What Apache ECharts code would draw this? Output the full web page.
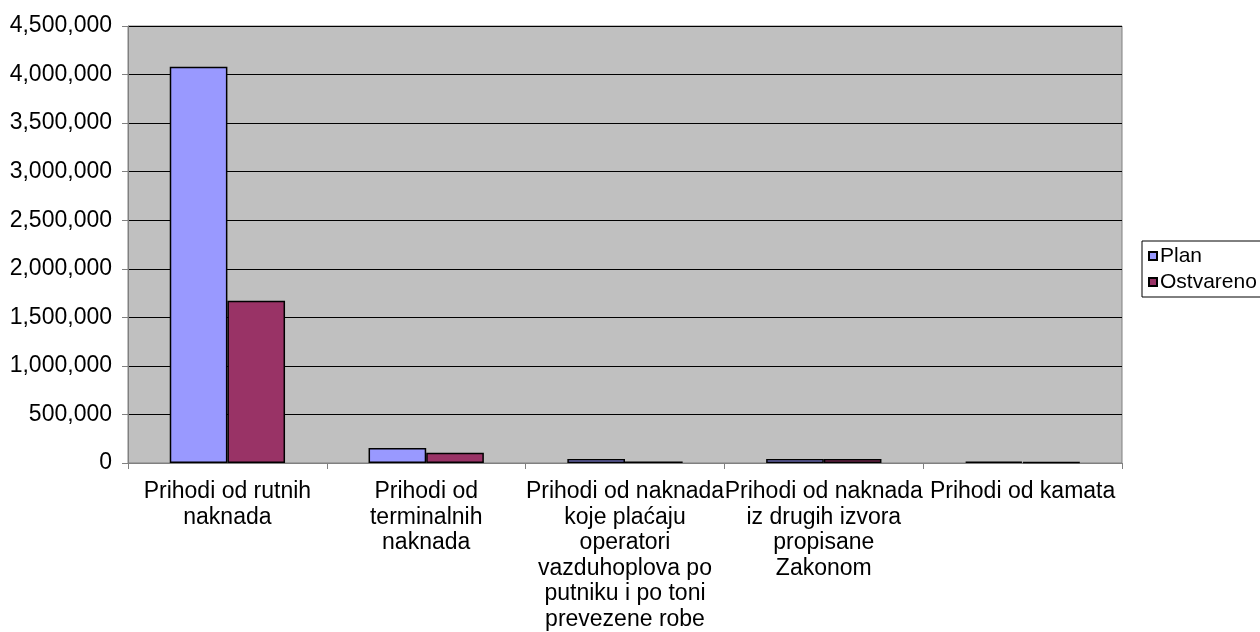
<!DOCTYPE html>
<html>
<head>
<meta charset="utf-8">
<script src="https://cdn.jsdelivr.net/npm/echarts@6/dist/echarts.min.js"></script>
<style>
html,body{margin:0;padding:0;background:#fff;}
#c{width:1260px;height:632px;}
</style>
</head>
<body>
<div id="c"></div>
<script>
var categories = [
  "Prihodi od rutnih\nnaknada",
  "Prihodi od\nterminalnih\nnaknada",
  "Prihodi od naknada\nkoje plaćaju\noperatori\nvazduhoplova po\nputniku i po toni\nprevezene robe",
  "Prihodi od naknada\niz drugih izvora\npropisane\nZakonom",
  "Prihodi od kamata"
];
var seriesNames = ["Plan", "Ostvareno"];
var planValues = [4080000, 155000, 42000, 40000, 14000];
var ostvarenoValues = [1670000, 105000, 16000, 40000, 9000];
var yMin = 0, yMax = 4500000, yStep = 500000;

var FONT = "Liberation Sans, Arial, sans-serif";
var chart = echarts.init(document.getElementById('c'), null, {renderer: 'canvas'});
chart.setOption({
  animation: false,
  backgroundColor: '#ffffff',
  textStyle: {fontFamily: FONT, color: '#000'},
  grid: {
    left: 128, right: 138, top: 26, bottom: 167,
    show: true, backgroundColor: '#C0C0C0', borderColor: '#808080', borderWidth: 1
  },
  legend: {
    orient: 'vertical',
    left: 1142, top: 241,
    data: seriesNames,
    icon: 'rect',
    itemWidth: 8, itemHeight: 8, itemGap: 4,
    borderColor: '#000', borderWidth: 1,
    padding: [4, 4, 4, 6],
    textStyle: {fontFamily: FONT, fontSize: 21, lineHeight: 22, color: '#000', padding: [0,0,0,-2]}
  },
  xAxis: {
    type: 'category',
    data: categories,
    axisLine: {lineStyle: {color: '#808080', width: 1}},
    axisTick: {show: true, length: 6, lineStyle: {color: '#808080'}},
    axisLabel: {
      interval: 0, margin: 16, fontSize: 23, lineHeight: 25.5,
      color: '#000', fontFamily: FONT, align: 'center'
    }
  },
  yAxis: {
    type: 'value',
    min: yMin, max: yMax, interval: yStep,
    axisLine: {show: true, lineStyle: {color: '#808080', width: 1}},
    axisTick: {show: true, length: 6, lineStyle: {color: '#808080'}},
    splitLine: {show: true, lineStyle: {color: '#000', width: 1}},
    axisLabel: {
      margin: 16, fontSize: 23, color: '#000', fontFamily: FONT,
      formatter: function (v) { return v.toLocaleString('en-US'); }
    }
  },
  series: [
    {
      name: seriesNames[0], type: 'bar', data: planValues,
      barGap: '0%', barCategoryGap: '42%',
      itemStyle: {color: '#9999FF', borderColor: '#000', borderWidth: 1.5}
    },
    {
      name: seriesNames[1], type: 'bar', data: ostvarenoValues,
      barGap: '0%', barCategoryGap: '42%',
      itemStyle: {color: '#993366', borderColor: '#000', borderWidth: 1.5}
    }
  ]
});
</script>
</body>
</html>
